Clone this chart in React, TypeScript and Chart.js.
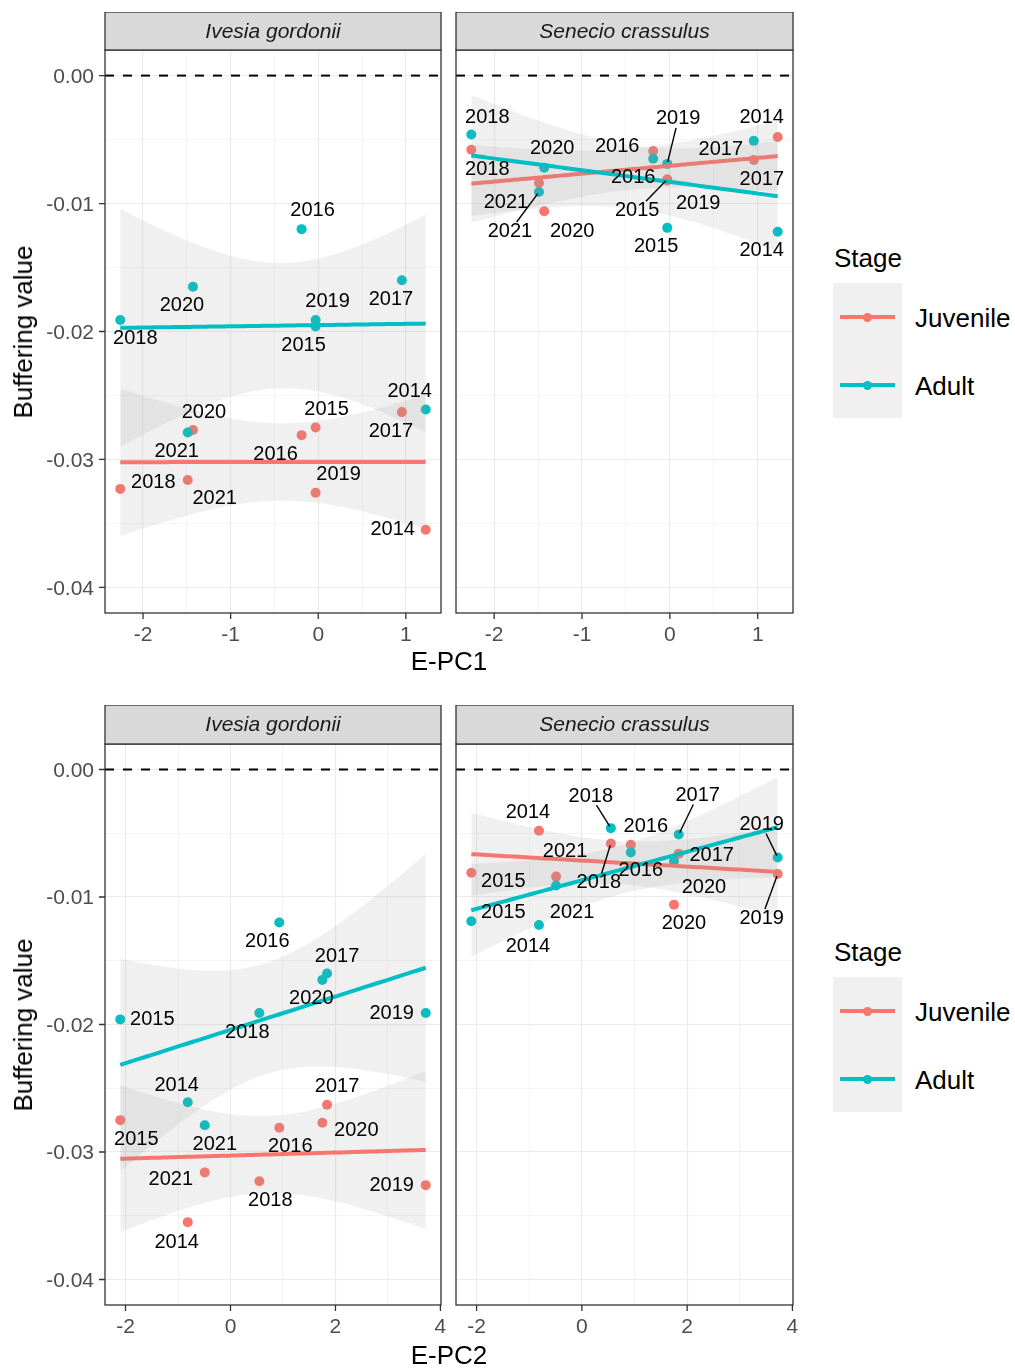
import React, { useEffect, useRef } from 'react';
import { Chart, registerables } from 'chart.js';

Chart.register(...registerables);

const FONT = '"Liberation Sans", Arial, Helvetica, sans-serif';

// ---- data -------------------------------------------------------------
const years = [2014, 2015, 2016, 2017, 2018, 2019, 2020, 2021];
const stageNames = ['Juvenile', 'Adult'];
const stageColors = ['#F8766D', '#00BFC4'];
const speciesNames = ['Ivesia gordonii', 'Senecio crassulus'];

// environmental principal-component scores per year
const ePC1 = [1.227, -0.03, -0.19, 0.955, -2.26, -0.03, -1.43, -1.49];
const ePC2 = [-0.815, -2.1, 0.93, 1.84, 0.55, 3.72, 1.75, -0.49];

// buffering values per year, by species and stage
const ivesiaJuvenile = [-0.0355, -0.0275, -0.0281, -0.0263, -0.0323, -0.0326, -0.0277, -0.0316];
const ivesiaAdult = [-0.0261, -0.0196, -0.012, -0.016, -0.0191, -0.0191, -0.0165, -0.0279];
const senecioJuvenile = [-0.0048, -0.0081, -0.0059, -0.0066, -0.0058, -0.0082, -0.0106, -0.0084];
const senecioAdult = [-0.0122, -0.0119, -0.0065, -0.0051, -0.0046, -0.0069, -0.0072, -0.0091];

const yLimits = [-0.04, 0];
const yMajorTicks = [-0.04, -0.03, -0.02, -0.01, 0];
const ePC1Ticks = [-2, -1, 0, 1];
const ePC2Ticks = [-2, 0, 2, 4];
const referenceLine = 0;

// ---- label placement (pixel nudges from each point: dx, dy, leader line) --
const nudgeIvesiaPC1Juv = [[-33, 0], [11, -18], [-26, 19], [-11, 19], [33, -6], [23, -18], [11, -18], [27, 19]];
const nudgeIvesiaPC1Adult = [[-16, -18], [-12, 19], [11, -19], [-11, 19], [15, 19], [12, -18], [-11, 19], [-11, 19]];
const nudgeSenecioPC1Juv = [[-16, -20], [-30, 31, 1], [-36, -5], [8, 19], [16, 20], [31, 23], [28, 20], [-33, 19]];
const nudgeSenecioPC1Adult = [[-16, 19], [-11, 19], [-20, 19], [-33, 9], [16, -17], [11, -45, 1], [8, -19], [-29, 39, 1]];
const nudgeIvesiaPC2Juv = [[-11, 20], [16, 19], [11, 19], [10, -18], [11, 19], [-34, 0], [34, 8], [-34, 7]];
const nudgeIvesiaPC2Adult = [[-11, -17], [32, 0], [-12, 19], [10, -17], [-12, 19], [-34, 0], [-11, 19], [10, 19]];
const nudgeSenecioPC2Juv = [[-11, -18], [32, 9], [15, -18], [33, 2], [-12, 39, 1], [-16, 44, 1], [10, 19], [9, -25]];
const nudgeSenecioPC2Adult = [[-11, 21], [32, -9], [10, 18], [19, -39, 1], [-20, -32, 1], [-16, -33, 1], [30, 26], [16, 27]];

// ---- helpers -----------------------------------------------------------
const T975 = [0, 12.706, 4.303, 3.182, 2.776, 2.571, 2.447, 2.365, 2.306, 2.262, 2.228];

function linearFit(xs: number[], ys: number[], steps = 80) {
  const n = xs.length;
  const mx = xs.reduce((a, b) => a + b, 0) / n;
  const my = ys.reduce((a, b) => a + b, 0) / n;
  let sxx = 0, sxy = 0;
  for (let i = 0; i < n; i++) {
    sxx += (xs[i] - mx) ** 2;
    sxy += (xs[i] - mx) * (ys[i] - my);
  }
  const b = sxy / sxx;
  const a = my - b * mx;
  let sse = 0;
  for (let i = 0; i < n; i++) sse += (ys[i] - (a + b * xs[i])) ** 2;
  const s = Math.sqrt(sse / (n - 2));
  const t = T975[n - 2] ?? 1.96;
  const lo = Math.min(...xs), hi = Math.max(...xs);
  const line: { x: number; y: number }[] = [];
  const upper: { x: number; y: number }[] = [];
  const lower: { x: number; y: number }[] = [];
  for (let k = 0; k < steps; k++) {
    const x = lo + ((hi - lo) * k) / (steps - 1);
    const yh = a + b * x;
    const se = s * Math.sqrt(1 / n + (x - mx) ** 2 / sxx);
    line.push({ x, y: yh });
    upper.push({ x, y: yh + t * se });
    lower.push({ x, y: yh - t * se });
  }
  return { line, upper, lower };
}

function expand(lo: number, hi: number, f = 0.05) {
  const r = hi - lo;
  return [lo - r * f, hi + r * f];
}

function withMinor(major: number[], lo: number, hi: number) {
  const step = major[1] - major[0];
  const all: number[] = [];
  const first = major[0] - step;
  const last = major[major.length - 1] + step;
  for (let v = first; v <= last + step * 1e-6; v += step / 2) {
    const r = Math.round(v / (step / 2)) * (step / 2);
    if (r >= lo - 1e-12 && r <= hi + 1e-12) all.push(r);
  }
  return all;
}

function isOn(v: number, step: number) {
  return Math.abs(v / step - Math.round(v / step)) < 1e-6;
}

// ---- panel ---------------------------------------------------------------
type PanelDef = {
  key: string;
  xs: number[];
  juv: number[];
  adult: number[];
  xMajor: number[];
  strip: string;
  showY: boolean;
  nudges: number[][][];
  left: number;
  top: number;
  width: number;
  height: number;
  padLeft: number;
  padRight: number;
  padTop: number;
  yAxisW: number;
  xAxisH: number;
};

const TICK_LEN = 6;

function Panel(p: PanelDef) {
  const ref = useRef<HTMLCanvasElement>(null);
  useEffect(() => {
    const [xmin, xmax] = expand(Math.min(...p.xs), Math.max(...p.xs));
    const [ymin, ymax] = expand(yLimits[0], yLimits[1]);
    const xStep = p.xMajor[1] - p.xMajor[0];
    const yStep = yMajorTicks[1] - yMajorTicks[0];
    const xTicks = withMinor(p.xMajor, xmin, xmax);
    const yTicks = withMinor(yMajorTicks, ymin, ymax);
    const series = [p.juv, p.adult];
    const fits = series.map((ys) => linearFit(p.xs, ys));
    const pts = (ys: number[]) => ys.map((y, i) => ({ x: p.xs[i], y }));
    const bandFill = 'rgba(153,153,153,0.15)';
    const none = 'rgba(0,0,0,0)';

    const datasets: any[] = [];
    series.forEach((ys, s) => {
      datasets.push({
        type: 'scatter',
        data: pts(ys),
        backgroundColor: stageColors[s],
        borderColor: stageColors[s],
        borderWidth: 0,
        pointRadius: 5,
        order: 70 - s * 10,
      });
    });
    fits.forEach((f, s) => {
      const base = 52 - s * 20;
      datasets.push({
        type: 'line',
        data: f.upper,
        borderColor: none,
        borderWidth: 0,
        pointRadius: 0,
        fill: false,
        order: base,
      });
      datasets.push({
        type: 'line',
        data: f.lower,
        borderColor: none,
        borderWidth: 0,
        pointRadius: 0,
        fill: '-1',
        backgroundColor: bandFill,
        order: base - 1,
      });
      datasets.push({
        type: 'line',
        data: f.line,
        borderColor: stageColors[s],
        borderWidth: 4,
        pointRadius: 0,
        fill: false,
        order: base - 12,
      });
    });

    const decor = {
      id: 'panelDecor',
      beforeDatasetsDraw(chart: any) {
        const { ctx, chartArea: a, scales } = chart;
        const y0 = scales.y.getPixelForValue(referenceLine);
        ctx.save();
        ctx.beginPath();
        ctx.rect(a.left, a.top, a.right - a.left, a.bottom - a.top);
        ctx.clip();
        ctx.setLineDash([9, 9]);
        ctx.lineWidth = 2;
        ctx.strokeStyle = '#000000';
        ctx.beginPath();
        ctx.moveTo(a.left, y0);
        ctx.lineTo(a.right, y0);
        ctx.stroke();
        ctx.restore();
      },
      afterDatasetsDraw(chart: any) {
        const { ctx, scales } = chart;
        ctx.save();
        ctx.font = `20px ${FONT}`;
        ctx.textAlign = 'center';
        ctx.textBaseline = 'middle';
        series.forEach((ys, s) => {
          ys.forEach((yv, i) => {
            const px = scales.x.getPixelForValue(p.xs[i]);
            const py = scales.y.getPixelForValue(yv);
            const [dx, dy, seg] = p.nudges[s][i];
            const lx = px + dx;
            const ly = py + dy;
            const text = String(years[i]);
            if (seg) {
              const len = Math.hypot(dx, dy);
              const ux = dx / len, uy = dy / len;
              const hw = ctx.measureText(text).width / 2 + 2;
              const hh = 9;
              const tEdge = Math.min(hw / Math.max(Math.abs(ux), 1e-9), hh / Math.max(Math.abs(uy), 1e-9));
              ctx.strokeStyle = '#000000';
              ctx.lineWidth = 1.4;
              ctx.beginPath();
              ctx.moveTo(px + ux * 2, py + uy * 2);
              ctx.lineTo(lx - ux * tEdge, ly - uy * tEdge);
              ctx.stroke();
            }
            ctx.fillStyle = '#000000';
            ctx.fillText(text, lx, ly);
          });
        });
        ctx.restore();
      },
      afterDraw(chart: any) {
        const { ctx, chartArea: a, scales } = chart;
        const w = a.right - a.left;
        ctx.save();
        ctx.strokeStyle = '#333333';
        ctx.lineWidth = 1.3;
        // axis tick marks
        ctx.beginPath();
        p.xMajor.forEach((v) => {
          const x = scales.x.getPixelForValue(v);
          ctx.moveTo(x, a.bottom);
          ctx.lineTo(x, a.bottom + TICK_LEN);
        });
        if (p.showY) {
          yMajorTicks.forEach((v) => {
            const y = scales.y.getPixelForValue(v);
            ctx.moveTo(a.left - TICK_LEN, y);
            ctx.lineTo(a.left, y);
          });
        }
        ctx.stroke();
        // panel border and strip
        ctx.strokeRect(a.left, a.top, w, a.bottom - a.top);
        const st = a.top - p.padTop;
        ctx.fillStyle = '#D9D9D9';
        ctx.fillRect(a.left, st, w, p.padTop);
        ctx.strokeRect(a.left, st, w, p.padTop);
        ctx.fillStyle = '#1A1A1A';
        ctx.font = `italic 21px ${FONT}`;
        ctx.textAlign = 'center';
        ctx.textBaseline = 'middle';
        ctx.fillText(p.strip, a.left + w / 2, st + p.padTop / 2 + 1);
        ctx.restore();
      },
    };

    const chart = new Chart(ref.current as HTMLCanvasElement, {
      type: 'scatter',
      data: { datasets },
      options: {
        animation: false,
        responsive: false,
        devicePixelRatio: 1,
        events: [],
        layout: { padding: { left: p.padLeft, right: p.padRight, top: p.padTop, bottom: 0 } },
        plugins: { legend: { display: false }, tooltip: { enabled: false }, title: { display: false } },
        scales: {
          x: {
            type: 'linear',
            position: 'bottom',
            min: xmin,
            max: xmax,
            bounds: 'data',
            afterBuildTicks: (sc: any) => {
              sc.ticks = xTicks.map((v) => ({ value: v }));
            },
            afterFit: (sc: any) => {
              sc.height = p.xAxisH;
              sc.paddingLeft = 0;
              sc.paddingRight = 0;
            },
            border: { display: false },
            grid: {
              color: '#EBEBEB',
              lineWidth: (c: any) => (c.tick && isOn(c.tick.value, xStep) ? 1.1 : 0.55),
              tickColor: none,
              tickLength: TICK_LEN,
              drawTicks: true,
            },
            ticks: {
              autoSkip: false,
              maxRotation: 0,
              minRotation: 0,
              padding: 4,
              color: '#4D4D4D',
              font: { family: FONT, size: 21 },
              callback: (v: any) => (isOn(Number(v), xStep) ? String(Math.round(Number(v))) : ''),
            },
          },
          y: {
            type: 'linear',
            position: 'left',
            min: ymin,
            max: ymax,
            bounds: 'data',
            afterBuildTicks: (sc: any) => {
              sc.ticks = yTicks.map((v) => ({ value: v }));
            },
            afterFit: (sc: any) => {
              sc.width = p.yAxisW;
              sc.paddingTop = 0;
              sc.paddingBottom = 0;
            },
            border: { display: false },
            grid: {
              color: '#EBEBEB',
              lineWidth: (c: any) => (c.tick && isOn(c.tick.value, yStep) ? 1.1 : 0.55),
              tickColor: none,
              tickLength: TICK_LEN,
              drawTicks: p.showY,
            },
            ticks: {
              display: p.showY,
              autoSkip: false,
              padding: 5,
              labelOffset: 1.5,
              color: '#4D4D4D',
              font: { family: FONT, size: 21 },
              callback: (v: any) => (isOn(Number(v), yStep) ? Number(v).toFixed(2) : ''),
            },
          },
        },
      } as any,
      plugins: [decor],
    } as any);
    return () => chart.destroy();
  }, []);
  return (
    <canvas
      ref={ref}
      width={p.width}
      height={p.height}
      style={{ position: 'absolute', left: p.left, top: p.top, width: p.width, height: p.height }}
    />
  );
}

const panels: PanelDef[] = [
  {
    key: 'tl', xs: ePC1, juv: ivesiaJuvenile, adult: ivesiaAdult, xMajor: ePC1Ticks, strip: speciesNames[0],
    showY: true, nudges: [nudgeIvesiaPC1Juv, nudgeIvesiaPC1Adult],
    left: 0, top: 12, width: 450, height: 650, padLeft: 0, padRight: 9, padTop: 38, yAxisW: 105, xAxisH: 49,
  },
  {
    key: 'tr', xs: ePC1, juv: senecioJuvenile, adult: senecioAdult, xMajor: ePC1Ticks, strip: speciesNames[1],
    showY: false, nudges: [nudgeSenecioPC1Juv, nudgeSenecioPC1Adult],
    left: 450, top: 12, width: 350, height: 650, padLeft: 6, padRight: 7, padTop: 38, yAxisW: 0, xAxisH: 49,
  },
  {
    key: 'bl', xs: ePC2, juv: ivesiaJuvenile, adult: ivesiaAdult, xMajor: ePC2Ticks, strip: speciesNames[0],
    showY: true, nudges: [nudgeIvesiaPC2Juv, nudgeIvesiaPC2Adult],
    left: 0, top: 705, width: 450, height: 650, padLeft: 0, padRight: 9, padTop: 39, yAxisW: 105, xAxisH: 50,
  },
  {
    key: 'br', xs: ePC2, juv: senecioJuvenile, adult: senecioAdult, xMajor: ePC2Ticks, strip: speciesNames[1],
    showY: false, nudges: [nudgeSenecioPC2Juv, nudgeSenecioPC2Adult],
    left: 450, top: 705, width: 350, height: 650, padLeft: 6, padRight: 7, padTop: 39, yAxisW: 0, xAxisH: 50,
  },
];

// ---- text & legend --------------------------------------------------------
function Text({ x, y, size, children, rotate, align = 'center' }: any) {
  const tx = align === 'center' ? '-50%' : '0';
  return (
    <div
      style={{
        position: 'absolute',
        left: x,
        top: y,
        fontSize: size,
        lineHeight: 1,
        whiteSpace: 'nowrap',
        color: '#000000',
        fontFamily: FONT,
        transform: `translate(${tx}, -50%)${rotate ? ` rotate(${rotate}deg)` : ''}`,
      }}
    >
      {children}
    </div>
  );
}

function Legend({ dy }: { dy: number }) {
  const keyY = [317, 385];
  return (
    <>
      <Text x={834} y={258 + dy} size={26} align="left">Stage</Text>
      <div style={{ position: 'absolute', left: 833, top: 283 + dy, width: 69, height: 135, background: '#F0F0F0' }} />
      {stageNames.map((name, s) => (
        <React.Fragment key={name}>
          <div
            style={{
              position: 'absolute', left: 840, top: keyY[s] + dy - 2, width: 55, height: 4, background: stageColors[s],
            }}
          />
          <div
            style={{
              position: 'absolute', left: 867.5 - 4.5, top: keyY[s] + dy - 4.5, width: 9, height: 9,
              borderRadius: '50%', background: stageColors[s],
            }}
          />
          <Text x={915} y={keyY[s] + dy + 1} size={26} align="left">{name}</Text>
        </React.Fragment>
      ))}
    </>
  );
}

export default function App() {
  return (
    <div
      style={{
        position: 'absolute', left: 0, top: 0, width: 1015, height: 1368, background: '#ffffff', overflow: 'hidden',
        fontFamily: FONT,
      }}
    >
      {panels.map((p) => (
        <Panel {...p} key={p.key} />
      ))}
      <Text x={23} y={331.5} size={26} rotate={-90}>Buffering value</Text>
      <Text x={23} y={1024.5} size={26} rotate={-90}>Buffering value</Text>
      <Text x={449} y={661} size={26}>E-PC1</Text>
      <Text x={449} y={1355} size={26}>E-PC2</Text>
      <Legend dy={0} />
      <Legend dy={694} />
    </div>
  );
}
